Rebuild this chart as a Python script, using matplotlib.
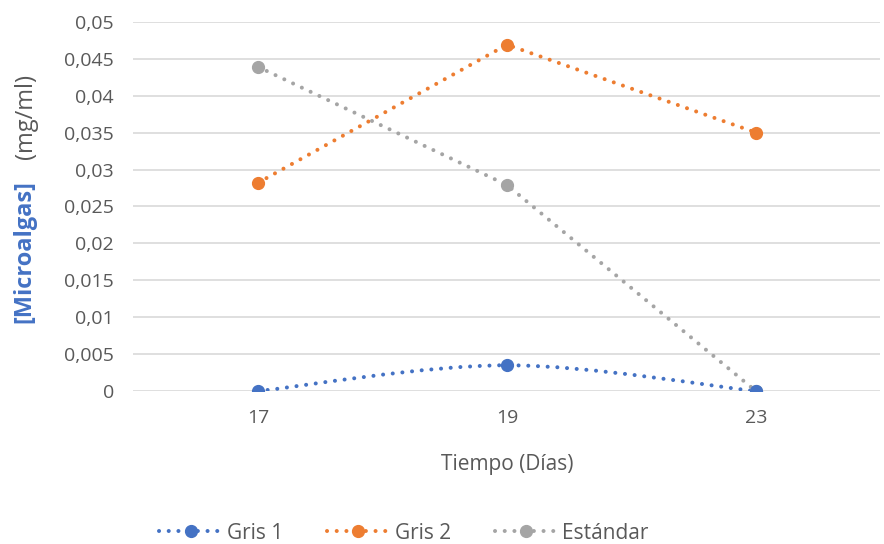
import matplotlib.pyplot as plt
from matplotlib.path import Path
from matplotlib.patches import PathPatch
from matplotlib.lines import Line2D
import numpy as np

dias = ["17", "19", "23"]
gris1 = [0.0, 0.0035, 0.0]
gris2 = [0.0282, 0.0469, 0.0350]
estandar = [0.0439, 0.0279, 0.0]

y_ticks = [0, 0.005, 0.01, 0.015, 0.02, 0.025, 0.03, 0.035, 0.04, 0.045, 0.05]

c_blue = "#4472C4"
c_orange = "#ED7D31"
c_gray = "#A5A5A5"
c_text = "#595959"

plt.rcParams['font.family'] = ['Open Sans', 'DejaVu Sans']

dot_style = (0, (0.01, 2.4))
lw = 2.9
ms = 8.5

def smooth_path(xs, ys):
    # excel-like smoothed line (catmull-rom -> bezier)
    pts = np.column_stack([xs, ys]).astype(float)
    n = len(pts)
    verts = [pts[0]]
    codes = [Path.MOVETO]
    for i in range(n - 1):
        p0 = pts[i - 1] if i > 0 else pts[i]
        p1 = pts[i]
        p2 = pts[i + 1]
        p3 = pts[i + 2] if i + 2 < n else pts[i + 1]
        c1 = p1 + (p2 - p0) / 6
        c2 = p2 - (p3 - p1) / 6
        verts += [c1, c2, p2]
        codes += [Path.CURVE4] * 3
    return Path(verts, codes)

fig = plt.figure(figsize=(8.84, 5.44), dpi=100)
ax = fig.add_axes([0.151, 0.281, 0.845, 0.679])

x = np.arange(len(dias))

patch = PathPatch(smooth_path(x, gris1), fill=False, edgecolor=c_blue,
                  linewidth=lw, linestyle=dot_style, capstyle='round', zorder=3)
ax.add_patch(patch)
ax.plot(x, gris1, linestyle='none', marker='o', color=c_blue, markersize=ms, zorder=4)

ax.plot(x, gris2, color=c_orange, linewidth=lw, linestyle=dot_style,
        dash_capstyle='round', marker='o', markersize=ms, zorder=3)
ax.plot(x, estandar, color=c_gray, linewidth=lw, linestyle=dot_style,
        dash_capstyle='round', marker='o', markersize=ms, zorder=3)

ax.set_xlim(-0.5, 2.5)
ax.set_ylim(0, 0.05)
ax.set_xticks(x)
ax.set_xticklabels(dias)
ax.set_yticks(y_ticks)
ax.set_yticklabels([("%g" % v).replace(".", ",") for v in y_ticks])
ax.tick_params(length=0, colors=c_text, labelsize=14)
ax.tick_params(axis='x', pad=13)
ax.tick_params(axis='y', pad=14)
for s in ax.spines.values():
    s.set_visible(False)
ax.grid(axis='y', color="#D9D9D9", linewidth=1.2)
ax.set_axisbelow(True)

ax.set_xlabel("Tiempo (Días)", color=c_text, fontsize=15, labelpad=19)

fig.text(0.028, 0.537, "[Microalgas]", rotation=90, color=c_blue, fontsize=17,
         fontweight='bold', ha='center', va='center')
fig.text(0.029, 0.785, "(mg/ml)", rotation=90, color=c_text, fontsize=17,
         ha='center', va='center')

handles = [
    Line2D([], [], color=c_blue, linewidth=lw, linestyle=dot_style, dash_capstyle='round',
           marker='o', markersize=ms),
    Line2D([], [], color=c_orange, linewidth=lw, linestyle=dot_style, dash_capstyle='round',
           marker='o', markersize=ms),
    Line2D([], [], color=c_gray, linewidth=lw, linestyle=dot_style, dash_capstyle='round',
           marker='o', markersize=ms),
]
fig.legend(handles, ["Gris 1", "Gris 2", "Estándar"], loc='center', ncol=3,
           bbox_to_anchor=(0.457, 0.02), frameon=False, fontsize=15,
           labelcolor=c_text, handlelength=3.0, columnspacing=2.1, handletextpad=0.25)

fig.savefig("out.png", dpi=100)
